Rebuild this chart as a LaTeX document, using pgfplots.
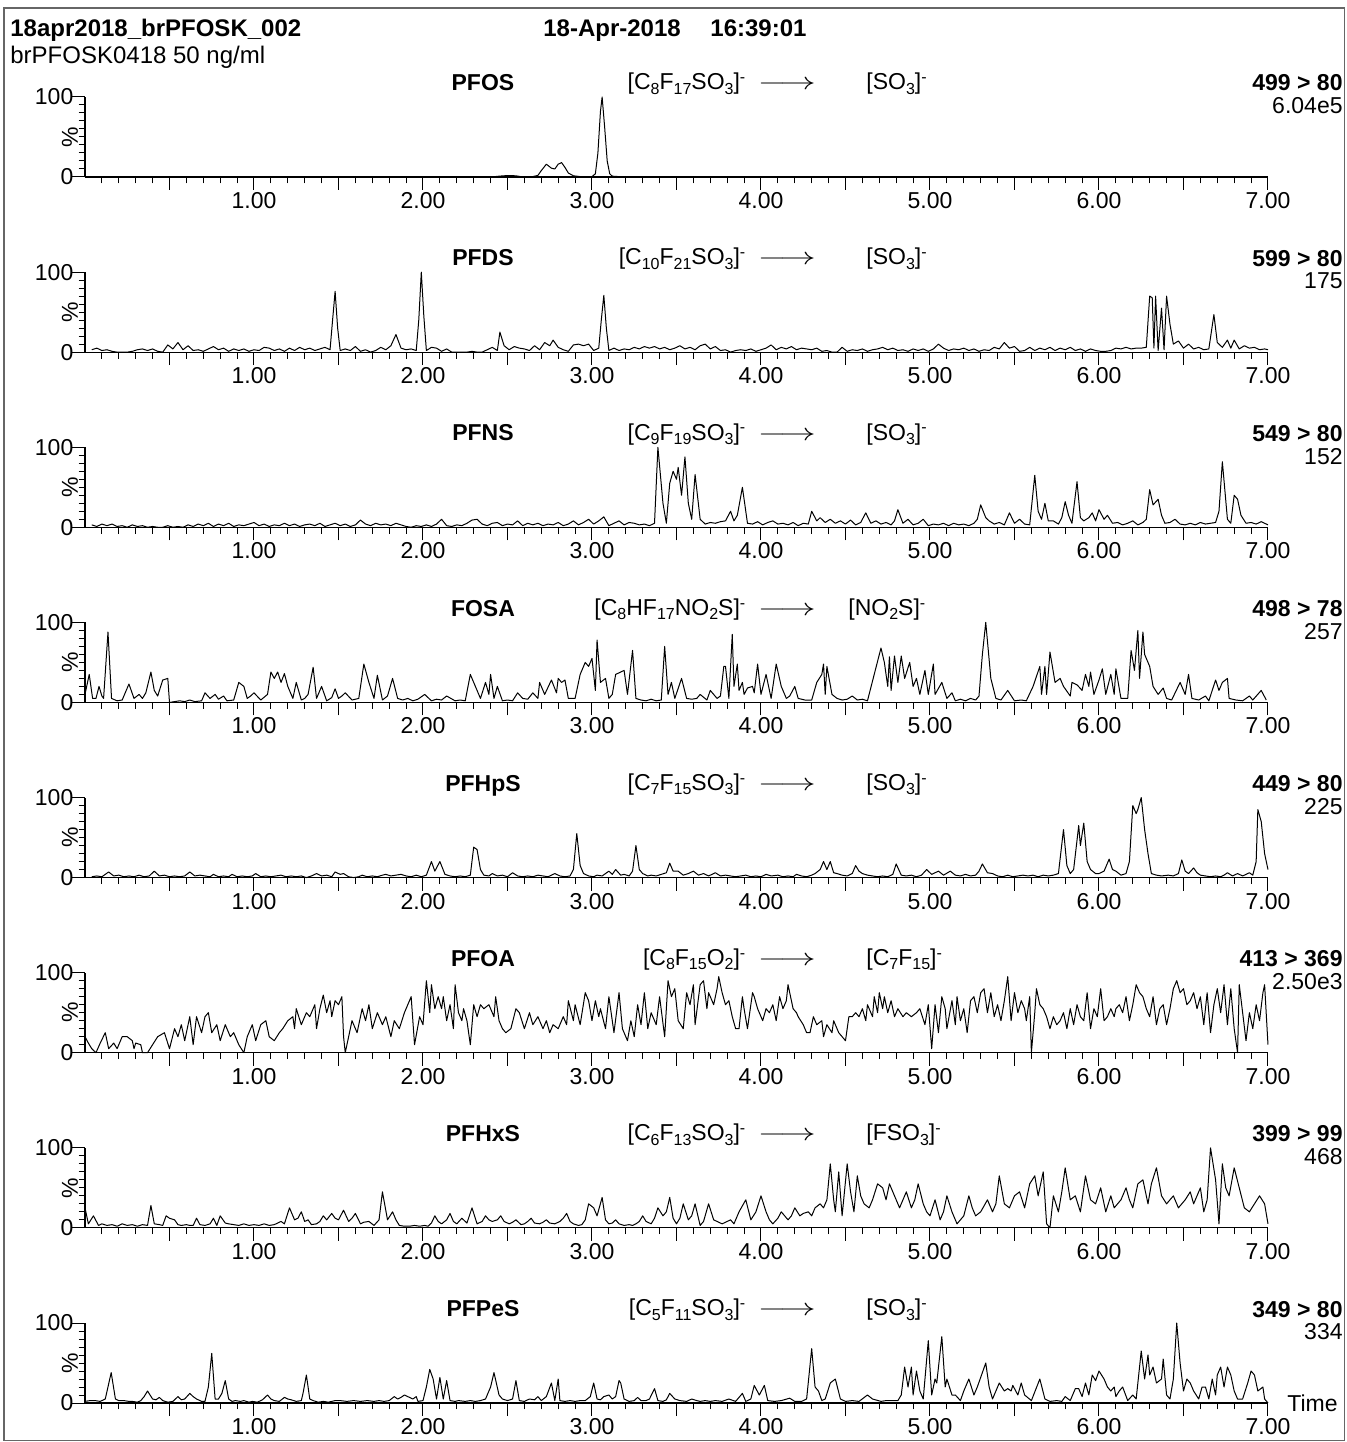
\documentclass[border=0pt]{standalone}
\usepackage{fontspec}
\setmainfont{Liberation Sans}
\usepackage{graphicx}
\usepackage{pgfplots}
\pgfplotsset{compat=1.18}

\newcommand{\fnt}{\fontsize{11.5}{13}\selectfont}
\newcommand{\bfnt}{\fontsize{11.5}{13}\selectfont\bfseries}
\newcommand{\sbs}[1]{\raisebox{-2.2pt}{\fontsize{8}{8}\selectfont #1}}
\newcommand{\chg}{\raisebox{3.6pt}{\fontsize{8}{8}\selectfont -}}
\newcommand{\arr}{\scalebox{1.5}[1]{$\longrightarrow$}}

\tikzset{pct/.style={rotate=90, font=\fnt}}

\pgfplotsset{
  chrom/.style={
    scale only axis, width=591.5pt, height=40pt,
    anchor=south west,
    xmin=0, xmax=7, ymin=0, ymax=100, enlargelimits=false,
    axis lines*=left,
    axis line style={-, line width=0.6pt, black},
    clip=false,
    xtick={0.5,1,...,7},
    xticklabels={,1.00,,2.00,,3.00,,4.00,,5.00,,6.00,,7.00},
    minor xtick={0.1,0.2,0.3,0.4,0.6,0.7,0.8,0.9,1.1,1.2,1.3,1.4,1.6,1.7,1.8,1.9,2.1,2.2,2.3,2.4,2.6,2.7,2.8,2.9,3.1,3.2,3.3,3.4,3.6,3.7,3.8,3.9,4.1,4.2,4.3,4.4,4.6,4.7,4.8,4.9,5.1,5.2,5.3,5.4,5.6,5.7,5.8,5.9,6.1,6.2,6.3,6.4,6.6,6.7,6.8,6.9},
    ytick={0,100}, yticklabels={0,100},
    minor ytick={10,20,30,40,50,60,70,80,90},
    tick align=outside,
    major tick length=6.5pt, minor tick length=3.2pt,
    tick style={line width=0.5pt, black},
    xticklabel style={font=\fnt, yshift=2.3pt},
    yticklabel style={font=\fnt, xshift=4.2pt},
  },
  trace/.style={black, line width=0.5pt, line join=round, mark=none},
}

% one panel's title line: compound, transition, channel and base peak intensity
\newcommand{\panellabels}[7]{%
  \node[anchor=base, font=\bfnt] at (axis description cs:0.3364,1.08) {#1};
  \node[anchor=base east, font=\fnt, inner xsep=0pt] at (axis description cs:#7,1.09) {#2};
  \node[anchor=base, font=\fnt] at (axis description cs:0.5934,1.09) {\arr};
  \node[anchor=base west, font=\fnt, inner xsep=0pt] at (axis description cs:#6,1.09) {#3};
  \node[anchor=base east, font=\bfnt, inner xsep=0pt] at (axis description cs:1.0634,1.075) {#4};
  \node[anchor=base east, font=\fnt, inner xsep=0pt] at (axis description cs:1.0634,0.79) {#5};
  \node[pct] at (axis description cs:-0.0127,0.5) {\%};
}

\begin{document}
\begin{tikzpicture}
\useasboundingbox (0,0) rectangle (673pt,721pt);
\draw[black!60, line width=0.6pt] (2pt,0.6pt) rectangle (672.4pt,717pt);

\node[anchor=base west, inner xsep=0pt, font={\fontsize{12}{14}\selectfont\bfseries}] at (5pt,702.75pt) {18apr2018\_brPFOSK\_002};
\node[anchor=base west, inner xsep=0pt, font={\fontsize{12}{14}\selectfont\bfseries}] at (271.5pt,702.75pt) {18-Apr-2018};
\node[anchor=base west, inner xsep=0pt, font={\fontsize{12}{14}\selectfont\bfseries}] at (355pt,702.75pt) {16:39:01};
\node[anchor=base west, inner xsep=0pt, font={\fontsize{12}{14}\selectfont}] at (5pt,689.25pt) {brPFOSK0418 50 ng/ml};

% PFOS
\begin{axis}[chrom, at={(42.5pt,632.5pt)}]
\addplot[trace] coordinates {(0,0)(2.40,0)(2.46,1.2)(2.50,1.8)(2.55,1.5)(2.58,0.4)(2.65,0.5)(2.68,2)(2.70,8)(2.73,16)(2.76,11)(2.78,10)(2.80,16)(2.82,18)(2.84,12)(2.86,5)(2.89,1.5)(2.93,0.5)(3.00,0.5)(3.02,4)(3.035,30)(3.05,82)(3.06,100)(3.075,62)(3.09,20)(3.105,4)(3.12,1)(3.2,0)(7.0,0)};
\panellabels{PFOS}{[C\sbs{8}F\sbs{17}SO\sbs{3}]\chg}{[SO\sbs{3}]\chg}{499 > 80}{6.04e5}{0.6602}{0.5585}
\end{axis}

% PFDS
\begin{axis}[chrom, at={(42.5pt,544.93pt)}]
\addplot[trace] coordinates {(0.04,3)(0.07,5)(0.10,2)(0.13,3)(0.16,1)(0.19,0)(0.22,0)(0.25,0)(0.28,1)(0.31,3)(0.34,4)(0.37,2)(0.40,4)(0.43,1)(0.46,0)(0.49,9)(0.52,4)(0.55,12)(0.58,3)(0.61,8)(0.64,2)(0.67,3)(0.70,1)(0.73,4)(0.76,7)(0.79,3)(0.82,5)(0.85,1)(0.88,4)(0.91,2)(0.94,4)(0.97,1)(1.00,3)(1.03,2)(1.06,6)(1.09,5)(1.12,2)(1.15,4)(1.18,1)(1.21,5)(1.24,2)(1.27,6)(1.30,3)(1.33,5)(1.36,2)(1.39,4)(1.42,6)(1.45,3)(1.465,40)(1.48,76)(1.495,30)(1.51,2)(1.54,4)(1.57,2)(1.60,7)(1.63,1)(1.66,3)(1.69,0)(1.72,2)(1.75,6)(1.78,3)(1.81,8)(1.84,22)(1.87,5)(1.90,3)(1.93,4)(1.96,2)(1.975,40)(1.99,100)(2.005,45)(2.02,2)(2.05,6)(2.08,5)(2.11,1)(2.14,4)(2.17,0)(2.20,0)(2.23,0)(2.26,0)(2.29,1)(2.32,0)(2.35,0)(2.38,3)(2.41,6)(2.44,2)(2.455,25)(2.48,8)(2.51,3)(2.54,7)(2.57,5)(2.60,4)(2.63,2)(2.66,8)(2.69,3)(2.72,12)(2.75,8)(2.77,15)(2.80,6)(2.83,3)(2.86,1)(2.89,9)(2.92,10)(2.95,8)(2.98,10)(3.01,2)(3.04,5)(3.055,40)(3.07,71)(3.085,30)(3.10,2)(3.13,5)(3.16,2)(3.19,4)(3.22,3)(3.25,6)(3.28,4)(3.31,7)(3.34,5)(3.37,7)(3.40,4)(3.43,6)(3.46,3)(3.49,5)(3.52,8)(3.55,4)(3.58,6)(3.61,3)(3.64,8)(3.67,10)(3.70,4)(3.73,7)(3.76,2)(3.79,3)(3.82,0)(3.85,2)(3.88,3)(3.91,2)(3.94,4)(3.97,1)(4.00,3)(4.03,5)(4.06,9)(4.09,3)(4.12,6)(4.15,4)(4.18,7)(4.21,3)(4.24,5)(4.27,4)(4.30,3)(4.33,5)(4.36,1)(4.39,2)(4.42,0)(4.45,0)(4.48,6)(4.51,1)(4.54,3)(4.57,2)(4.60,4)(4.63,1)(4.66,3)(4.69,4)(4.72,6)(4.75,3)(4.78,5)(4.81,2)(4.84,3)(4.87,1)(4.90,4)(4.93,2)(4.96,4)(4.99,1)(5.02,4)(5.05,10)(5.08,5)(5.11,2)(5.14,4)(5.17,3)(5.20,5)(5.23,2)(5.26,4)(5.29,1)(5.32,3)(5.35,2)(5.38,6)(5.41,4)(5.44,12)(5.47,5)(5.50,7)(5.53,1)(5.56,2)(5.59,6)(5.62,2)(5.65,5)(5.68,3)(5.71,6)(5.74,2)(5.77,5)(5.80,3)(5.83,6)(5.86,2)(5.89,4)(5.92,1)(5.95,4)(5.98,2)(6.01,1)(6.04,1)(6.07,2)(6.10,5)(6.13,4)(6.16,6)(6.19,4)(6.22,5)(6.25,5)(6.28,6)(6.30,70)(6.315,68)(6.325,5)(6.335,70)(6.35,2)(6.37,55)(6.385,3)(6.40,70)(6.42,35)(6.44,10)(6.47,14)(6.50,5)(6.53,10)(6.56,4)(6.59,6)(6.62,3)(6.65,4)(6.68,47)(6.70,12)(6.73,6)(6.76,15)(6.78,5)(6.80,15)(6.83,4)(6.86,8)(6.89,5)(6.92,6)(6.95,3)(6.98,4)(7.00,3)};
\panellabels{PFDS}{[C\sbs{10}F\sbs{21}SO\sbs{3}]\chg}{[SO\sbs{3}]\chg}{599 > 80}{175}{0.6602}{0.5585}
\end{axis}

% PFNS
\begin{axis}[chrom, at={(42.5pt,457.36pt)}]
\addplot[trace] coordinates {(0.04,3)(0.07,1)(0.10,4)(0.13,2)(0.16,4)(0.19,1)(0.22,2)(0.25,0)(0.28,3)(0.31,1)(0.34,2)(0.37,0)(0.40,1)(0.43,0)(0.46,0)(0.49,2)(0.52,0)(0.55,1)(0.58,0)(0.61,3)(0.64,1)(0.67,4)(0.70,2)(0.73,5)(0.76,1)(0.79,4)(0.82,2)(0.85,5)(0.88,1)(0.91,3)(0.94,2)(0.97,4)(1.00,6)(1.03,2)(1.06,4)(1.09,1)(1.12,3)(1.15,2)(1.18,5)(1.21,2)(1.24,4)(1.27,1)(1.30,3)(1.33,4)(1.36,2)(1.39,5)(1.42,1)(1.45,3)(1.48,5)(1.51,2)(1.54,4)(1.57,1)(1.60,3)(1.63,9)(1.66,4)(1.69,2)(1.72,5)(1.75,3)(1.78,4)(1.81,2)(1.84,5)(1.87,3)(1.90,1)(1.93,0)(1.96,2)(1.99,1)(2.02,3)(2.05,1)(2.08,4)(2.11,10)(2.14,2)(2.17,1)(2.20,3)(2.23,2)(2.26,5)(2.29,9)(2.32,10)(2.35,4)(2.38,2)(2.41,5)(2.44,6)(2.47,2)(2.50,4)(2.53,3)(2.56,8)(2.59,2)(2.62,5)(2.65,3)(2.68,5)(2.71,2)(2.74,4)(2.77,3)(2.80,6)(2.83,2)(2.86,4)(2.89,8)(2.92,3)(2.95,6)(2.98,10)(3.01,4)(3.04,8)(3.07,13)(3.10,2)(3.13,5)(3.16,8)(3.19,3)(3.22,6)(3.25,5)(3.28,3)(3.31,4)(3.34,2)(3.37,5)(3.39,100)(3.42,30)(3.44,5)(3.46,55)(3.48,70)(3.50,60)(3.51,75)(3.53,40)(3.55,88)(3.57,30)(3.59,10)(3.61,66)(3.64,10)(3.67,4)(3.70,6)(3.73,5)(3.76,7)(3.79,8)(3.82,20)(3.84,8)(3.86,15)(3.89,50)(3.92,5)(3.95,4)(3.98,7)(4.01,3)(4.04,6)(4.07,8)(4.10,4)(4.13,5)(4.16,3)(4.19,6)(4.22,2)(4.25,5)(4.28,4)(4.30,20)(4.33,8)(4.35,12)(4.38,6)(4.41,10)(4.44,5)(4.47,8)(4.50,4)(4.53,9)(4.56,3)(4.59,6)(4.62,18)(4.65,5)(4.68,8)(4.71,4)(4.74,6)(4.77,3)(4.79,8)(4.81,22)(4.84,5)(4.87,10)(4.90,3)(4.93,5)(4.96,10)(4.99,2)(5.02,4)(5.05,3)(5.08,5)(5.11,2)(5.14,5)(5.17,3)(5.20,4)(5.23,2)(5.26,5)(5.28,10)(5.30,28)(5.33,12)(5.35,8)(5.38,4)(5.41,6)(5.44,3)(5.47,18)(5.50,5)(5.53,10)(5.56,4)(5.59,3)(5.62,65)(5.64,20)(5.66,10)(5.68,30)(5.70,8)(5.73,8)(5.76,4)(5.78,12)(5.80,32)(5.82,15)(5.84,5)(5.87,57)(5.89,12)(5.91,8)(5.94,12)(5.96,18)(5.98,8)(6.00,22)(6.03,10)(6.05,15)(6.08,5)(6.11,6)(6.14,3)(6.17,5)(6.20,8)(6.23,3)(6.26,6)(6.28,10)(6.30,47)(6.32,28)(6.35,35)(6.37,15)(6.39,5)(6.42,6)(6.45,10)(6.48,4)(6.51,3)(6.54,5)(6.57,3)(6.60,6)(6.63,4)(6.66,5)(6.69,6)(6.71,20)(6.73,82)(6.76,10)(6.78,5)(6.80,40)(6.82,35)(6.84,15)(6.87,5)(6.90,6)(6.93,4)(6.96,7)(6.98,5)(7.00,3)};
\panellabels{PFNS}{[C\sbs{9}F\sbs{19}SO\sbs{3}]\chg}{[SO\sbs{3}]\chg}{549 > 80}{152}{0.6602}{0.5585}
\end{axis}

% FOSA
\begin{axis}[chrom, at={(42.5pt,369.79pt)}]
\addplot[trace] coordinates {(0.00,10)(0.025,35)(0.045,5)(0.065,5)(0.083,20)(0.10,8)(0.11,5)(0.136,88)(0.157,5)(0.19,2)(0.22,3)(0.26,23)(0.29,5)(0.32,10)(0.34,5)(0.36,12)(0.39,38)(0.41,15)(0.43,8)(0.46,28)(0.49,30)(0.50,0)(0.53,1)(0.56,2)(0.59,1)(0.62,3)(0.65,1)(0.69,2)(0.71,12)(0.74,5)(0.77,10)(0.79,4)(0.82,8)(0.84,2)(0.88,3)(0.91,25)(0.94,20)(0.96,5)(0.98,8)(1.00,12)(1.04,3)(1.08,10)(1.10,38)(1.12,30)(1.14,38)(1.16,25)(1.18,36)(1.20,20)(1.23,5)(1.25,25)(1.28,3)(1.30,5)(1.32,10)(1.35,44)(1.37,5)(1.40,20)(1.43,2)(1.46,6)(1.48,17)(1.50,5)(1.52,8)(1.54,12)(1.58,3)(1.62,5)(1.65,48)(1.68,25)(1.71,5)(1.73,34)(1.76,3)(1.79,8)(1.82,30)(1.85,5)(1.88,3)(1.91,5)(1.94,2)(1.97,4)(2.01,10)(2.05,2)(2.08,4)(2.11,3)(2.14,8)(2.19,2)(2.22,3)(2.25,2)(2.28,35)(2.32,15)(2.34,5)(2.37,25)(2.39,10)(2.40,35)(2.42,5)(2.44,20)(2.47,2)(2.50,3)(2.53,2)(2.56,12)(2.59,5)(2.62,4)(2.65,12)(2.68,5)(2.69,25)(2.72,10)(2.76,28)(2.79,12)(2.80,30)(2.82,25)(2.84,28)(2.86,5)(2.90,5)(2.93,35)(2.96,50)(2.98,45)(3.00,55)(3.02,15)(3.03,78)(3.05,25)(3.08,30)(3.10,5)(3.12,10)(3.14,35)(3.17,38)(3.19,40)(3.21,10)(3.24,65)(3.26,5)(3.29,3)(3.32,2)(3.35,4)(3.38,2)(3.41,3)(3.43,70)(3.45,10)(3.47,25)(3.49,5)(3.53,30)(3.56,5)(3.59,4)(3.62,5)(3.64,10)(3.68,3)(3.70,15)(3.74,5)(3.76,8)(3.78,45)(3.79,45)(3.81,5)(3.83,85)(3.84,20)(3.86,48)(3.87,15)(3.89,25)(3.90,10)(3.92,18)(3.95,20)(3.96,12)(3.98,48)(4.00,10)(4.03,35)(4.06,5)(4.09,48)(4.12,20)(4.15,5)(4.17,8)(4.20,20)(4.22,5)(4.26,3)(4.30,3)(4.33,25)(4.36,35)(4.37,48)(4.38,10)(4.39,45)(4.42,10)(4.45,5)(4.48,3)(4.51,4)(4.54,8)(4.57,3)(4.60,4)(4.63,2)(4.71,68)(4.73,50)(4.75,20)(4.76,57)(4.77,15)(4.79,58)(4.81,25)(4.83,58)(4.85,30)(4.88,50)(4.90,20)(4.92,30)(4.94,10)(4.97,40)(4.99,10)(5.02,48)(5.03,10)(5.07,25)(5.10,5)(5.13,12)(5.15,2)(5.18,4)(5.21,2)(5.24,5)(5.27,3)(5.29,8)(5.31,60)(5.33,100)(5.36,30)(5.39,5)(5.42,3)(5.46,15)(5.50,2)(5.54,3)(5.57,2)(5.61,20)(5.65,45)(5.66,10)(5.68,45)(5.69,10)(5.71,63)(5.74,25)(5.77,30)(5.79,20)(5.83,8)(5.84,25)(5.87,22)(5.90,15)(5.92,35)(5.94,20)(5.95,38)(5.97,10)(6.00,28)(6.02,42)(6.04,10)(6.07,35)(6.09,10)(6.10,42)(6.13,5)(6.17,5)(6.19,65)(6.21,40)(6.23,90)(6.24,30)(6.26,88)(6.27,60)(6.30,45)(6.32,20)(6.35,10)(6.38,18)(6.40,5)(6.43,3)(6.48,25)(6.51,10)(6.53,35)(6.55,5)(6.59,3)(6.63,8)(6.65,2)(6.69,28)(6.71,15)(6.73,25)(6.76,30)(6.77,5)(6.81,3)(6.85,2)(6.89,8)(6.91,3)(6.96,15)(6.99,3)};
\panellabels{FOSA}{[C\sbs{8}HF\sbs{17}NO\sbs{2}S]\chg}{[NO\sbs{2}S]\chg}{498 > 78}{257}{0.645}{0.5585}
\end{axis}

% PFHpS
\begin{axis}[chrom, at={(42.5pt,282.22pt)}]
\addplot[trace] coordinates {(0.04,1)(0.07,2)(0.10,1)(0.14,7)(0.17,2)(0.20,3)(0.23,1)(0.26,2)(0.29,1)(0.32,3)(0.35,1)(0.38,2)(0.41,8)(0.44,2)(0.47,3)(0.50,1)(0.53,2)(0.56,1)(0.59,2)(0.62,7)(0.65,2)(0.68,3)(0.71,2)(0.74,1)(0.76,4)(0.79,1)(0.82,2)(0.85,1)(0.87,4)(0.90,1)(0.93,2)(0.96,1)(0.99,2)(1.01,5)(1.04,1)(1.07,2)(1.10,1)(1.13,2)(1.16,3)(1.19,1)(1.22,2)(1.25,1)(1.28,2)(1.31,0)(1.34,2)(1.37,5)(1.40,2)(1.43,3)(1.46,1)(1.48,7)(1.51,4)(1.53,5)(1.56,1)(1.59,0)(1.62,1)(1.64,3)(1.67,1)(1.70,2)(1.73,1)(1.76,3)(1.78,4)(1.81,2)(1.84,3)(1.87,4)(1.90,2)(1.93,1)(1.96,3)(1.99,1)(2.02,3)(2.05,20)(2.07,8)(2.10,20)(2.13,4)(2.16,2)(2.19,1)(2.22,2)(2.25,1)(2.28,3)(2.30,38)(2.32,35)(2.34,10)(2.36,3)(2.39,2)(2.41,5)(2.44,2)(2.47,3)(2.50,1)(2.53,6)(2.56,2)(2.59,1)(2.62,2)(2.65,1)(2.68,3)(2.71,2)(2.74,1)(2.78,5)(2.81,2)(2.84,1)(2.87,2)(2.89,10)(2.91,55)(2.93,15)(2.95,5)(2.98,2)(3.01,1)(3.03,3)(3.06,2)(3.10,8)(3.12,4)(3.14,10)(3.17,3)(3.19,4)(3.22,2)(3.24,8)(3.26,40)(3.28,10)(3.30,5)(3.33,2)(3.35,3)(3.38,2)(3.41,4)(3.44,6)(3.46,18)(3.48,8)(3.51,8)(3.54,3)(3.57,5)(3.60,8)(3.63,3)(3.66,5)(3.69,2)(3.73,6)(3.76,2)(3.79,3)(3.82,2)(3.85,1)(3.88,2)(3.91,3)(3.94,1)(3.97,2)(4.00,1)(4.03,4)(4.06,2)(4.10,3)(4.13,1)(4.16,2)(4.19,1)(4.21,4)(4.24,2)(4.27,1)(4.30,3)(4.32,5)(4.35,10)(4.37,20)(4.39,10)(4.41,20)(4.43,6)(4.45,5)(4.48,3)(4.51,2)(4.54,5)(4.56,15)(4.58,8)(4.60,5)(4.63,3)(4.66,2)(4.69,1)(4.72,2)(4.75,1)(4.78,4)(4.80,17)(4.83,3)(4.86,2)(4.89,3)(4.92,1)(4.95,3)(4.98,10)(5.01,4)(5.05,8)(5.08,3)(5.12,8)(5.15,3)(5.18,2)(5.21,4)(5.24,2)(5.27,3)(5.29,8)(5.31,17)(5.34,6)(5.37,5)(5.40,2)(5.43,1)(5.46,3)(5.49,1)(5.52,2)(5.55,3)(5.58,2)(5.61,3)(5.64,1)(5.67,3)(5.70,2)(5.73,3)(5.76,5)(5.79,60)(5.81,15)(5.83,5)(5.85,10)(5.88,65)(5.89,40)(5.91,68)(5.93,20)(5.95,10)(5.98,5)(6.00,5)(6.03,8)(6.06,23)(6.08,10)(6.10,8)(6.13,3)(6.16,5)(6.18,20)(6.20,90)(6.22,80)(6.23,85)(6.25,100)(6.27,60)(6.29,30)(6.31,5)(6.34,3)(6.37,2)(6.41,3)(6.44,2)(6.47,5)(6.49,22)(6.51,8)(6.53,5)(6.56,12)(6.58,6)(6.60,3)(6.63,2)(6.66,1)(6.69,2)(6.72,1)(6.74,3)(6.76,6)(6.79,2)(6.82,5)(6.85,2)(6.89,6)(6.91,3)(6.93,20)(6.94,85)(6.96,70)(6.98,30)(7.00,10)};
\panellabels{PFHpS}{[C\sbs{7}F\sbs{15}SO\sbs{3}]\chg}{[SO\sbs{3}]\chg}{449 > 80}{225}{0.6602}{0.5585}
\end{axis}

% PFOA
\begin{axis}[chrom, at={(42.5pt,194.65pt)}]
\addplot[trace] coordinates {(0.00,20)(0.02,12)(0.04,5)(0.065,0)(0.09,12)(0.12,25)(0.14,5)(0.17,12)(0.19,5)(0.22,20)(0.25,20)(0.28,15)(0.29,5)(0.30,12)(0.33,10)(0.34,0)(0.37,0)(0.40,10)(0.43,20)(0.47,25)(0.50,5)(0.53,30)(0.55,20)(0.57,35)(0.59,15)(0.62,45)(0.64,10)(0.66,45)(0.69,25)(0.71,45)(0.73,50)(0.75,25)(0.78,35)(0.80,15)(0.83,35)(0.86,20)(0.88,25)(0.91,10)(0.94,0)(0.96,20)(0.99,35)(1.01,15)(1.04,35)(1.07,40)(1.09,20)(1.12,15)(1.15,25)(1.17,30)(1.20,40)(1.23,45)(1.24,30)(1.25,55)(1.28,35)(1.31,50)(1.33,45)(1.36,60)(1.37,30)(1.39,55)(1.41,72)(1.43,50)(1.45,65)(1.46,45)(1.48,65)(1.50,60)(1.52,70)(1.53,20)(1.54,0)(1.56,20)(1.58,40)(1.61,25)(1.64,55)(1.66,40)(1.68,60)(1.70,30)(1.73,50)(1.76,35)(1.78,45)(1.81,20)(1.83,40)(1.86,30)(1.89,50)(1.91,60)(1.93,70)(1.95,10)(1.98,45)(2.00,35)(2.02,90)(2.04,50)(2.05,85)(2.07,55)(2.09,70)(2.11,55)(2.12,70)(2.14,40)(2.16,60)(2.18,30)(2.19,85)(2.21,50)(2.23,40)(2.24,55)(2.26,40)(2.28,10)(2.30,60)(2.32,45)(2.34,60)(2.36,55)(2.39,60)(2.42,45)(2.43,70)(2.45,40)(2.47,30)(2.49,25)(2.52,30)(2.55,55)(2.57,50)(2.60,30)(2.63,50)(2.65,35)(2.68,45)(2.71,30)(2.73,40)(2.75,25)(2.77,35)(2.80,30)(2.83,45)(2.85,35)(2.86,65)(2.89,40)(2.90,60)(2.93,35)(2.96,75)(2.98,65)(3.00,40)(3.02,65)(3.04,45)(3.05,55)(3.08,30)(3.10,70)(3.13,25)(3.16,75)(3.18,30)(3.21,15)(3.23,40)(3.25,20)(3.27,60)(3.29,35)(3.31,75)(3.33,30)(3.35,50)(3.38,35)(3.40,70)(3.43,20)(3.45,90)(3.47,70)(3.49,80)(3.51,40)(3.54,30)(3.56,75)(3.58,60)(3.60,85)(3.61,35)(3.64,85)(3.66,90)(3.68,55)(3.69,75)(3.72,60)(3.74,80)(3.75,95)(3.77,75)(3.79,60)(3.81,65)(3.83,45)(3.85,30)(3.87,30)(3.89,70)(3.90,55)(3.92,30)(3.95,75)(3.96,70)(3.98,55)(4.01,40)(4.03,55)(4.05,50)(4.07,60)(4.09,40)(4.11,70)(4.13,55)(4.15,65)(4.16,85)(4.19,55)(4.21,50)(4.22,45)(4.25,35)(4.27,25)(4.29,25)(4.31,45)(4.33,35)(4.36,40)(4.37,20)(4.39,35)(4.42,25)(4.43,40)(4.46,25)(4.48,20)(4.50,15)(4.52,45)(4.54,45)(4.56,50)(4.58,45)(4.60,55)(4.62,40)(4.63,60)(4.66,45)(4.67,70)(4.69,50)(4.70,75)(4.72,55)(4.73,70)(4.75,50)(4.77,65)(4.79,45)(4.81,55)(4.84,45)(4.86,50)(4.89,45)(4.92,50)(4.94,55)(4.97,35)(4.99,60)(5.01,5)(5.03,60)(5.05,25)(5.07,70)(5.09,55)(5.10,30)(5.13,65)(5.15,35)(5.16,70)(5.18,40)(5.20,55)(5.22,25)(5.24,65)(5.26,70)(5.28,50)(5.30,75)(5.32,80)(5.34,50)(5.36,75)(5.38,45)(5.40,60)(5.42,40)(5.44,65)(5.46,95)(5.48,40)(5.50,75)(5.52,50)(5.54,65)(5.56,55)(5.57,40)(5.59,70)(5.60,0)(5.62,50)(5.63,80)(5.65,60)(5.67,55)(5.69,45)(5.71,30)(5.73,45)(5.75,35)(5.77,40)(5.79,50)(5.81,30)(5.83,55)(5.85,35)(5.87,60)(5.89,45)(5.91,40)(5.93,75)(5.95,30)(5.97,55)(5.99,45)(6.01,80)(6.03,40)(6.05,45)(6.07,55)(6.09,45)(6.10,55)(6.12,60)(6.14,50)(6.16,70)(6.18,40)(6.20,60)(6.22,85)(6.24,75)(6.26,70)(6.28,55)(6.30,45)(6.32,70)(6.34,35)(6.36,55)(6.38,60)(6.40,35)(6.42,55)(6.44,80)(6.46,90)(6.48,75)(6.50,80)(6.52,60)(6.54,65)(6.56,75)(6.58,55)(6.60,70)(6.62,35)(6.64,75)(6.66,25)(6.68,60)(6.70,80)(6.72,50)(6.74,85)(6.76,35)(6.78,80)(6.80,30)(6.82,0)(6.83,85)(6.85,50)(6.87,15)(6.89,50)(6.91,30)(6.93,60)(6.95,40)(6.97,75)(6.98,85)(7.00,10)};
\panellabels{PFOA}{[C\sbs{8}F\sbs{15}O\sbs{2}]\chg}{[C\sbs{7}F\sbs{15}]\chg}{413 > 369}{2.50e3}{0.6602}{0.5585}
\end{axis}

% PFHxS
\begin{axis}[chrom, at={(42.5pt,107.08pt)}]
\addplot[trace] coordinates {(0.00,25)(0.02,5)(0.05,15)(0.08,3)(0.10,5)(0.13,3)(0.16,4)(0.19,2)(0.22,5)(0.25,3)(0.28,4)(0.31,2)(0.34,4)(0.37,3)(0.39,28)(0.41,5)(0.44,4)(0.46,3)(0.48,15)(0.50,12)(0.53,10)(0.55,4)(0.57,3)(0.60,4)(0.62,3)(0.64,3)(0.66,12)(0.68,4)(0.71,3)(0.74,5)(0.76,12)(0.78,3)(0.80,15)(0.83,6)(0.85,5)(0.88,4)(0.91,3)(0.94,5)(0.97,3)(1.00,4)(1.03,3)(1.06,5)(1.09,3)(1.12,4)(1.14,6)(1.16,8)(1.18,5)(1.21,25)(1.24,10)(1.26,12)(1.28,20)(1.30,8)(1.32,10)(1.34,4)(1.37,5)(1.39,8)(1.41,15)(1.43,10)(1.46,18)(1.48,12)(1.50,10)(1.53,22)(1.56,8)(1.58,12)(1.60,18)(1.63,5)(1.65,7)(1.68,8)(1.71,3)(1.74,10)(1.76,45)(1.79,10)(1.82,20)(1.84,10)(1.86,3)(1.89,2)(1.92,2)(1.95,3)(1.98,2)(2.01,3)(2.03,2)(2.05,6)(2.07,15)(2.09,8)(2.11,5)(2.14,10)(2.16,18)(2.18,8)(2.20,5)(2.23,12)(2.26,6)(2.29,25)(2.32,5)(2.35,8)(2.37,15)(2.39,10)(2.41,8)(2.44,10)(2.46,15)(2.48,8)(2.51,5)(2.53,7)(2.55,10)(2.58,4)(2.60,5)(2.62,8)(2.64,12)(2.66,6)(2.69,5)(2.71,7)(2.73,10)(2.75,6)(2.78,5)(2.81,8)(2.83,12)(2.85,18)(2.87,8)(2.89,5)(2.92,3)(2.94,4)(2.96,10)(2.98,30)(3.01,25)(3.03,15)(3.06,38)(3.08,10)(3.10,5)(3.12,6)(3.14,10)(3.16,5)(3.19,3)(3.22,4)(3.24,3)(3.26,5)(3.28,8)(3.30,15)(3.32,8)(3.35,5)(3.37,12)(3.39,25)(3.42,15)(3.44,20)(3.46,38)(3.48,12)(3.50,5)(3.52,12)(3.54,30)(3.57,10)(3.59,15)(3.61,30)(3.64,3)(3.66,8)(3.69,30)(3.72,10)(3.74,8)(3.77,5)(3.79,7)(3.82,10)(3.84,5)(3.87,20)(3.91,35)(3.94,10)(3.97,20)(4.00,40)(4.03,20)(4.05,10)(4.07,5)(4.10,12)(4.12,20)(4.14,15)(4.16,10)(4.18,15)(4.20,25)(4.23,15)(4.25,18)(4.28,20)(4.30,15)(4.32,25)(4.35,30)(4.37,25)(4.39,35)(4.41,80)(4.43,35)(4.44,20)(4.46,70)(4.48,15)(4.51,80)(4.53,45)(4.55,20)(4.57,65)(4.59,40)(4.61,30)(4.64,25)(4.66,35)(4.69,55)(4.72,50)(4.74,35)(4.76,55)(4.79,40)(4.82,25)(4.84,35)(4.86,45)(4.89,25)(4.91,35)(4.93,55)(4.96,30)(4.98,20)(5.00,15)(5.03,35)(5.06,10)(5.08,20)(5.10,40)(5.13,20)(5.16,5)(5.20,15)(5.23,40)(5.25,25)(5.27,15)(5.30,20)(5.34,35)(5.37,20)(5.39,30)(5.41,65)(5.44,30)(5.47,25)(5.50,40)(5.53,45)(5.56,25)(5.59,55)(5.62,65)(5.64,40)(5.67,70)(5.69,5)(5.71,0)(5.73,40)(5.76,20)(5.78,45)(5.80,75)(5.83,35)(5.86,40)(5.89,20)(5.92,65)(5.95,35)(5.98,30)(6.01,50)(6.04,20)(6.07,40)(6.09,25)(6.11,30)(6.13,35)(6.16,50)(6.18,35)(6.20,25)(6.23,55)(6.26,60)(6.29,30)(6.31,55)(6.34,75)(6.37,40)(6.40,30)(6.42,35)(6.44,40)(6.47,25)(6.49,30)(6.51,35)(6.54,45)(6.56,30)(6.58,40)(6.60,50)(6.62,20)(6.64,35)(6.66,100)(6.69,60)(6.71,5)(6.73,80)(6.75,50)(6.77,40)(6.80,75)(6.83,50)(6.86,25)(6.89,20)(6.92,30)(6.95,40)(6.98,30)(7.00,5)};
\panellabels{PFHxS}{[C\sbs{6}F\sbs{13}SO\sbs{3}]\chg}{[FSO\sbs{3}]\chg}{399 > 99}{468}{0.6602}{0.5585}
\end{axis}

% PFPeS
\begin{axis}[chrom, at={(42.5pt,19.5pt)}]
\addplot[trace] coordinates {(0.00,2)(0.03,3)(0.06,3)(0.09,2)(0.12,5)(0.155,38)(0.18,5)(0.20,3)(0.23,3)(0.26,2)(0.28,2)(0.31,1)(0.33,3)(0.35,8)(0.37,15)(0.40,5)(0.42,4)(0.44,7)(0.46,3)(0.49,1)(0.52,2)(0.55,8)(0.57,4)(0.59,5)(0.62,12)(0.64,8)(0.66,5)(0.69,2)(0.71,2)(0.73,20)(0.75,62)(0.77,5)(0.79,5)(0.81,12)(0.83,28)(0.85,5)(0.87,2)(0.89,3)(0.92,2)(0.94,3)(0.97,1)(0.99,2)(1.02,1)(1.05,4)(1.08,10)(1.10,5)(1.12,3)(1.15,2)(1.18,7)(1.20,5)(1.22,4)(1.25,2)(1.28,3)(1.29,12)(1.31,35)(1.33,5)(1.35,3)(1.38,1)(1.41,2)(1.44,1)(1.48,3)(1.51,3)(1.55,2)(1.59,3)(1.63,2)(1.67,3)(1.71,2)(1.74,3)(1.77,2)(1.80,3)(1.83,8)(1.85,5)(1.87,7)(1.89,10)(1.92,7)(1.94,5)(1.96,8)(1.97,2)(2.00,3)(2.02,20)(2.04,42)(2.06,30)(2.08,5)(2.10,32)(2.12,5)(2.14,28)(2.16,3)(2.19,2)(2.21,3)(2.25,2)(2.28,3)(2.31,2)(2.34,3)(2.37,5)(2.40,20)(2.42,38)(2.45,10)(2.47,5)(2.50,3)(2.53,5)(2.55,28)(2.57,3)(2.60,2)(2.63,5)(2.66,4)(2.68,8)(2.70,3)(2.73,8)(2.76,25)(2.78,3)(2.80,30)(2.81,3)(2.84,2)(2.87,3)(2.90,2)(2.93,3)(2.96,3)(2.99,8)(3.01,25)(3.03,5)(3.05,4)(3.07,8)(3.10,10)(3.12,5)(3.14,8)(3.16,28)(3.17,25)(3.19,5)(3.22,2)(3.25,3)(3.27,7)(3.29,3)(3.32,3)(3.34,5)(3.37,18)(3.39,3)(3.42,2)(3.44,4)(3.46,12)(3.49,5)(3.52,3)(3.56,2)(3.59,5)(3.62,3)(3.64,2)(3.67,3)(3.70,2)(3.73,3)(3.77,2)(3.81,5)(3.85,2)(3.89,12)(3.91,2)(3.94,5)(3.96,22)(3.99,10)(4.02,22)(4.04,3)(4.08,2)(4.12,3)(4.17,6)(4.20,2)(4.24,2)(4.27,5)(4.30,68)(4.32,20)(4.34,15)(4.36,3)(4.38,5)(4.41,25)(4.44,30)(4.47,5)(4.50,2)(4.54,3)(4.58,2)(4.63,10)(4.66,5)(4.71,2)(4.74,3)(4.77,3)(4.81,3)(4.83,10)(4.85,45)(4.87,20)(4.89,45)(4.90,10)(4.92,40)(4.94,15)(4.96,5)(4.99,78)(5.01,10)(5.03,30)(5.04,25)(5.07,83)(5.09,20)(5.10,30)(5.13,10)(5.15,10)(5.18,3)(5.20,15)(5.23,30)(5.26,10)(5.28,20)(5.33,50)(5.35,20)(5.37,5)(5.41,25)(5.44,15)(5.46,18)(5.48,15)(5.49,22)(5.52,10)(5.54,25)(5.56,10)(5.60,3)(5.65,30)(5.68,5)(5.71,2)(5.75,3)(5.78,2)(5.80,8)(5.83,3)(5.86,18)(5.88,18)(5.90,8)(5.92,25)(5.94,10)(5.96,35)(5.98,28)(6.00,40)(6.03,30)(6.05,20)(6.07,15)(6.09,20)(6.10,8)(6.12,15)(6.14,20)(6.17,3)(6.20,10)(6.22,5)(6.25,65)(6.27,30)(6.29,60)(6.30,35)(6.32,45)(6.34,25)(6.37,30)(6.38,55)(6.40,10)(6.42,5)(6.44,30)(6.46,100)(6.48,50)(6.50,15)(6.52,30)(6.54,25)(6.56,15)(6.59,5)(6.61,20)(6.63,20)(6.65,5)(6.67,30)(6.69,10)(6.70,35)(6.72,45)(6.74,20)(6.76,45)(6.78,35)(6.80,15)(6.82,5)(6.85,5)(6.88,25)(6.90,40)(6.92,35)(6.94,15)(6.97,20)(6.98,5)(7.00,0)};
\panellabels{PFPeS}{[C\sbs{5}F\sbs{11}SO\sbs{3}]\chg}{[SO\sbs{3}]\chg}{349 > 80}{334}{0.6602}{0.5585}
\node[anchor=base west, inner xsep=0pt, font=\fnt] at (axis description cs:1.016,-0.1) {Time};
\end{axis}
\end{tikzpicture}
\end{document}
